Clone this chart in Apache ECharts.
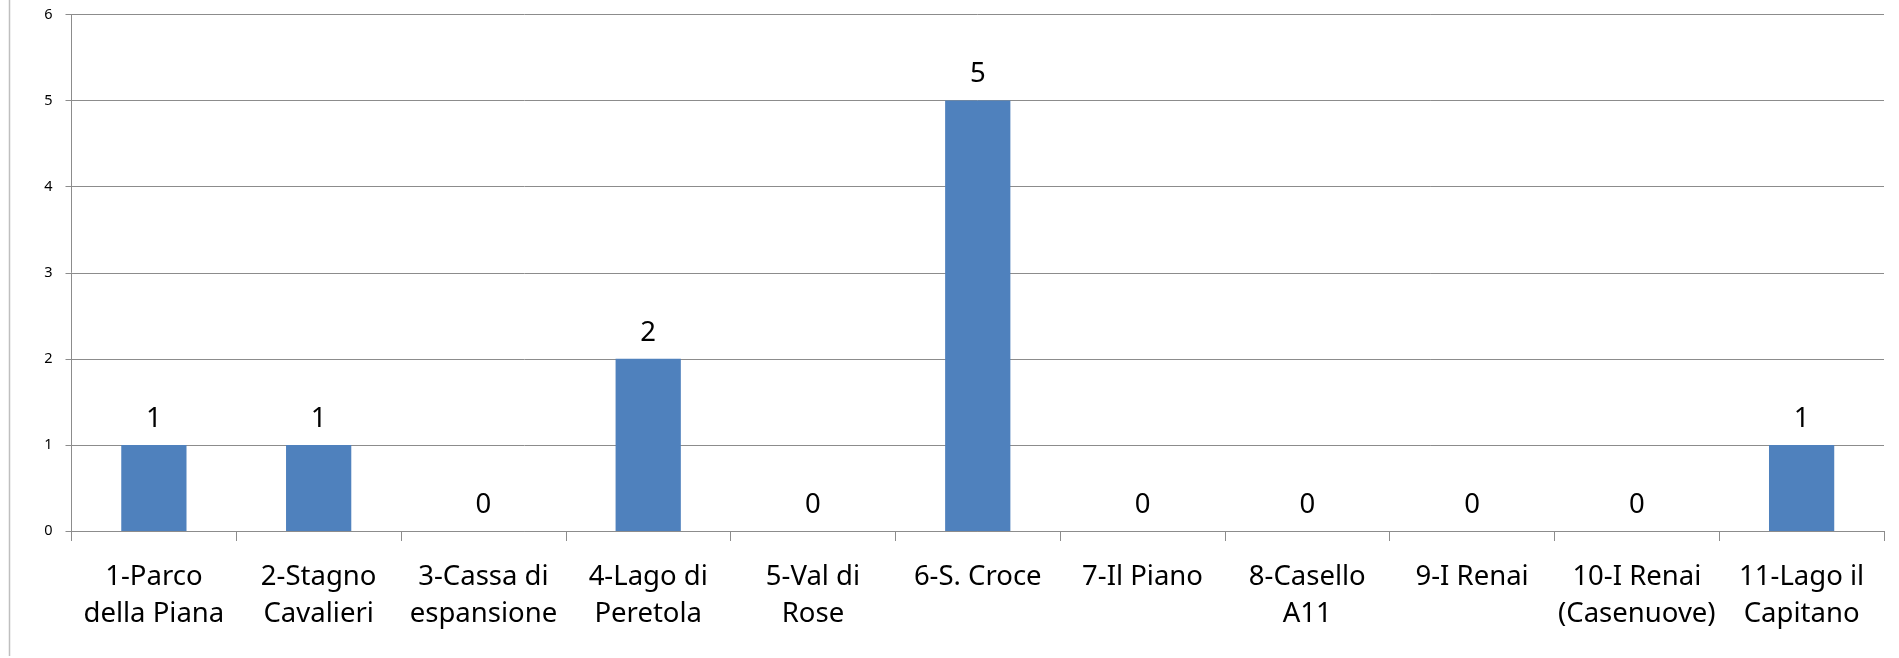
<!DOCTYPE html>
<html>
<head>
<meta charset="utf-8">
<script src="https://cdn.jsdelivr.net/npm/echarts@6/dist/echarts.min.js"></script>
<style>
  html, body { margin: 0; padding: 0; background: #fff; }
  #chart { width: 1899px; height: 658px; }
</style>
</head>
<body>
<div id="chart"></div>
<script>
// Sites along the survey route and the count recorded at each
const categories = [
  '1-Parco\ndella Piana',
  '2-Stagno\nCavalieri',
  '3-Cassa di\nespansione',
  '4-Lago di\nPeretola',
  '5-Val di\nRose',
  '6-S. Croce',
  '7-Il Piano',
  '8-Casello\nA11',
  '9-I Renai',
  '10-I Renai\n(Casenuove)',
  '11-Lago il\nCapitano'
];
const counts = [1, 1, 0, 2, 0, 5, 0, 0, 0, 0, 1];
const yTicks = [0, 1, 2, 3, 4, 5, 6];

const FONT = 'Noto Sans';
const chart = echarts.init(document.getElementById('chart'), null, { renderer: 'canvas' });

chart.setOption({
  animation: false,
  backgroundColor: '#ffffff',
  textStyle: { fontFamily: FONT, color: '#000' },
  grid: { left: 71.5, right: 15, top: 14.5, bottom: 127, containLabel: false },
  graphic: [{
    type: 'line',
    shape: { x1: 9.5, y1: 0, x2: 9.5, y2: 656 },
    style: { stroke: '#bfbfbf', lineWidth: 1.5 },
    silent: true
  }],
  xAxis: {
    type: 'category',
    data: categories,
    boundaryGap: true,
    axisLine: { show: true, lineStyle: { color: '#8c8c8c', width: 1 } },
    axisTick: { show: true, length: 10, alignWithLabel: false, lineStyle: { color: '#8c8c8c' } },
    axisLabel: {
      interval: 0,
      margin: 28,
      fontFamily: FONT,
      fontSize: 27.5,
      lineHeight: 37,
      color: '#000'
    },
    splitLine: { show: false }
  },
  yAxis: {
    type: 'value',
    min: yTicks[0],
    max: yTicks[yTicks.length - 1],
    interval: 1,
    axisLine: { show: true, lineStyle: { color: '#8c8c8c', width: 1 } },
    axisTick: { show: true, length: 6, inside: false, lineStyle: { color: '#8c8c8c' } },
    axisLabel: { margin: 19, fontFamily: FONT, fontSize: 14.5, color: '#000' },
    splitLine: { show: true, lineStyle: { color: '#8c8c8c', width: 1 } }
  },
  series: [{
    type: 'bar',
    data: counts,
    barWidth: '39.6%',
    itemStyle: { color: '#4f81bd' },
    label: {
      show: true,
      position: 'top',
      distance: 12,
      fontFamily: FONT,
      fontSize: 27.5,
      color: '#000'
    }
  }]
});
</script>
</body>
</html>
